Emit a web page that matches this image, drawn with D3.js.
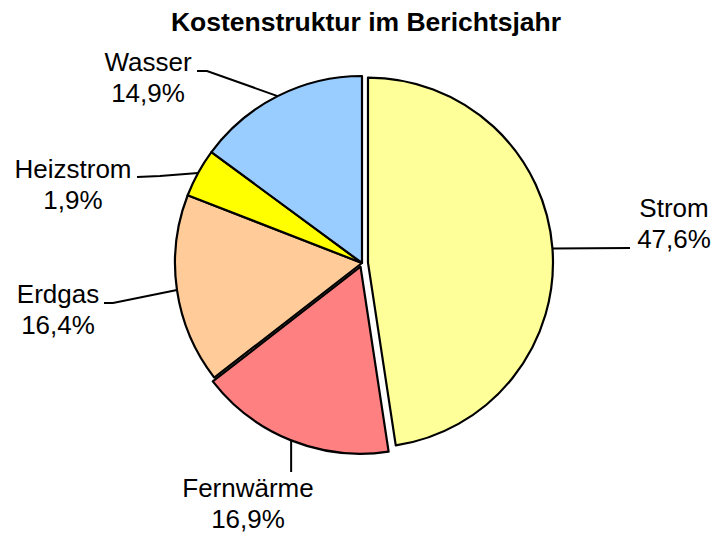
<!DOCTYPE html>
<html lang="de">
<head>
<meta charset="UTF-8">
<title>Kostenstruktur im Berichtsjahr</title>
<script src="https://d3js.org/d3.v7.min.js"></script>
<style>
  body { margin: 0; background: #fff; }
  text { font-family: "Liberation Sans", Arial, sans-serif; fill: #000; }
  .title { font-size: 26.5px; font-weight: bold; }
  .label { font-size: 26px; }
  .slices path { stroke: #000; stroke-width: 2.2px; stroke-linejoin: round; }
  .leaders polyline { fill: none; stroke: #000; stroke-width: 2px; }
</style>
</head>
<body>
<svg width="715" height="536"></svg>
<script>
// data
var categories = ["Strom", "Fernwärme", "Erdgas", "Heizstrom", "Wasser"];
var shares = [47.6, 16.9, 16.4, 4.2, 14.9];          // slice sizes as drawn
var shareLabels = ["47,6%", "16,9%", "16,4%", "1,9%", "14,9%"]; // as printed
var colors = ["#FFFF99", "#FF8080", "#FFCC99", "#FFFF00", "#99CCFF"];

var svg = d3.select("svg"),
    cx = 362, cy = 263, radius = 187;

// how far each slice is pulled out of the pie, and its own radius
var explode = [6, 4, 0, 0, 0];
var sliceRadius = [185, 187, 187, 187, 187];

// label placement: text centre, first baseline, leader elbows
var labelLayout = [
  { x: 674, y: 217, leader: function (p) { return [[630, 248]]; } },
  { x: 248, y: 497, leader: function (p) { return [[p[0], 472]]; } },
  { x: 58,  y: 303, leader: function (p) { return [[113, 303], [104, 303]]; } },
  { x: 73,  y: 178, leader: function (p) { return [[160, 176], [137, 177]]; } },
  { x: 148, y: 71,  leader: function (p) { return [[207, 71], [197, 71]]; } }
];

svg.append("text")
    .attr("class", "title")
    .attr("x", 366)
    .attr("y", 31)
    .attr("text-anchor", "middle")
    .text("Kostenstruktur im Berichtsjahr");

var pie = d3.pie().sort(null).value(function (d) { return d; });
var arcs = pie(shares);

var arc = d3.arc().innerRadius(0)
    .outerRadius(function (d) { return sliceRadius[d.index]; });

function offset(d, i) {
  var a = (d.startAngle + d.endAngle) / 2;
  return [Math.sin(a) * explode[i], -Math.cos(a) * explode[i]];
}

var g = svg.append("g").attr("transform", "translate(" + cx + "," + cy + ")");

g.append("g").attr("class", "slices")
  .selectAll("path")
  .data(arcs)
  .enter().append("path")
    .attr("transform", function (d, i) {
      var o = offset(d, i);
      return "translate(" + o[0] + "," + o[1] + ")";
    })
    .attr("fill", function (d, i) { return colors[i]; })
    .attr("d", arc);

// leader lines from the slice rim to the labels
var leaders = svg.append("g").attr("class", "leaders");
arcs.forEach(function (d, i) {
  var a = (d.startAngle + d.endAngle) / 2,
      r = sliceRadius[i] + explode[i],
      p = [cx + Math.sin(a) * r, cy - Math.cos(a) * r];
  var pts = [p].concat(labelLayout[i].leader(p));
  leaders.append("polyline")
      .attr("points", pts.map(function (q) { return q.join(","); }).join(" "));
});

var labels = svg.append("g").selectAll("text")
  .data(arcs)
  .enter().append("text")
    .attr("class", "label")
    .attr("text-anchor", "middle")
    .attr("x", function (d, i) { return labelLayout[i].x; })
    .attr("y", function (d, i) { return labelLayout[i].y; });

labels.append("tspan")
    .attr("x", function (d, i) { return labelLayout[i].x; })
    .text(function (d, i) { return categories[i]; });
labels.append("tspan")
    .attr("x", function (d, i) { return labelLayout[i].x; })
    .attr("dy", 31)
    .text(function (d, i) { return shareLabels[i]; });
</script>
</body>
</html>
